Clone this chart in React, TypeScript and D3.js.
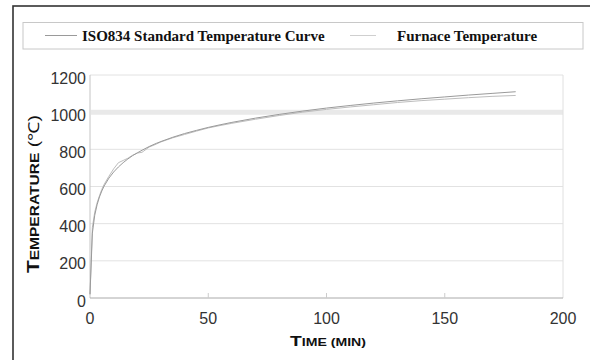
import React from "react";
import * as d3 from "d3";

// time in minutes
const times = [0, 1, 2, 3, 4, 5, 6, 8, 10, 12, 14, 16, 18, 20, 22, 25, 28, 30, 35, 40, 45, 50, 55, 60, 70, 80, 90, 100, 110, 120, 130, 140, 150, 160, 170, 180];
// ISO834 standard curve values
const isoTemps = [20, 349, 445, 502, 544, 576, 603, 645, 678, 705, 728, 748, 766, 781, 795, 815, 832, 842, 865, 885, 902, 918, 932, 945, 968, 988, 1006, 1022, 1036, 1049, 1061, 1072, 1082, 1092, 1101, 1110];
// measured furnace temperature
const furnaceTemps = [20, 380, 462, 512, 550, 585, 612, 655, 695, 728, 740, 752, 768, 780, 784, 812, 828, 840, 862, 880, 898, 915, 928, 940, 962, 982, 1000, 1015, 1028, 1040, 1052, 1062, 1070, 1078, 1085, 1090];

const xTicks = [0, 50, 100, 150, 200];
const yTicks = [0, 200, 400, 600, 800, 1000, 1200];
const seriesNames = ["ISO834 Standard Temperature Curve", "Furnace Temperature"];

const App = () => {
  const width = 590;
  const height = 360;

  const x = d3.scaleLinear().domain([0, 200]).range([90, 563]);
  const y = d3.scaleLinear().domain([0, 1200]).range([298, 75]);

  const line = d3.line<number>()
    .x((_, i) => x(times[i]))
    .y((d) => y(d));

  const sans = "'Liberation Sans', Arial, sans-serif";
  const serif = "'Liberation Serif', 'Times New Roman', serif";

  return (
    <svg width={width} height={height} style={{ position: "fixed", left: 0, top: 0, background: "#fff" }}>
      {/* outer frame */}
      <rect x={13} y={6} width={620} height={400} fill="none" stroke="#333" strokeWidth={1.6} />

      {/* legend */}
      <rect x={23} y={22.5} width={560} height={26.5} fill="none" stroke="#c8c8c8" strokeWidth={1} />
      <line x1={45} x2={77} y1={35.5} y2={35.5} stroke="#9a9a9a" strokeWidth={1} />
      <text x={82} y={41} fontFamily={serif} fontWeight="bold" fontSize={15} fill="#111">{seriesNames[0]}</text>
      <line x1={350} x2={376} y1={35.5} y2={35.5} stroke="#cfcfcf" strokeWidth={1} />
      <text x={397} y={41} fontFamily={serif} fontWeight="bold" fontSize={15} fill="#111">{seriesNames[1]}</text>

      {/* grid */}
      {yTicks.filter((t) => t > 0 && t !== 1000).map((t) => (
        <line key={t} x1={x(0)} x2={x(200)} y1={y(t)} y2={y(t)} stroke="#e2e2e2" strokeWidth={1} />
      ))}
      <line x1={x(0) + 1} x2={x(200)} y1={y(1000)} y2={y(1000)} stroke="#e9e9e9" strokeWidth={5} />
      <line x1={x(200)} x2={x(200)} y1={y(1200)} y2={y(0)} stroke="#e0e0e0" strokeWidth={1} />

      {/* axes */}
      <line x1={x(0)} x2={x(0)} y1={y(1200)} y2={y(0)} stroke="#c4c4c4" strokeWidth={1} />
      <line x1={x(0)} x2={x(200)} y1={y(0)} y2={y(0)} stroke="#aaa" strokeWidth={1} />
      {xTicks.slice(1, -1).map((t) => (
        <line key={t} x1={x(t)} x2={x(t)} y1={y(0)} y2={y(0) - 5} stroke="#ccc" strokeWidth={1} />
      ))}

      {/* tick labels */}
      {yTicks.map((t) => (
        <text key={t} x={86} y={y(t) + 3} dy="0.35em" textAnchor="end" fontFamily={sans} fontSize={16} fill="#333">{t}</text>
      ))}
      {xTicks.map((t) => (
        <text key={t} x={x(t)} y={318} dy="0.35em" textAnchor="middle" fontFamily={sans} fontSize={16} fill="#333">{t}</text>
      ))}

      {/* series */}
      <path d={line(furnaceTemps) ?? ""} fill="none" stroke="#bdbdbd" strokeWidth={1} />
      <path d={line(isoTemps) ?? ""} fill="none" stroke="#9a9a9a" strokeWidth={1} />

      {/* axis titles */}
      <text x={328} y={346} textAnchor="middle" fontFamily={sans} fontWeight="bold" fill="#111" textLength={76} lengthAdjust="spacingAndGlyphs">
        <tspan fontSize={15}>T</tspan>
        <tspan fontSize={11}>IME (MIN)</tspan>
      </text>
      <g transform="translate(39,194) rotate(-90)">
        <text x={0} y={0} textAnchor="middle" fontFamily={sans} fill="#111" textLength={158} lengthAdjust="spacingAndGlyphs">
          <tspan fontSize={16} fontWeight="bold">T</tspan>
          <tspan fontSize={12} fontWeight="bold">EMPERATURE</tspan>
          <tspan fontSize={15}> (℃)</tspan>
        </text>
      </g>
    </svg>
  );
};

export default App;
